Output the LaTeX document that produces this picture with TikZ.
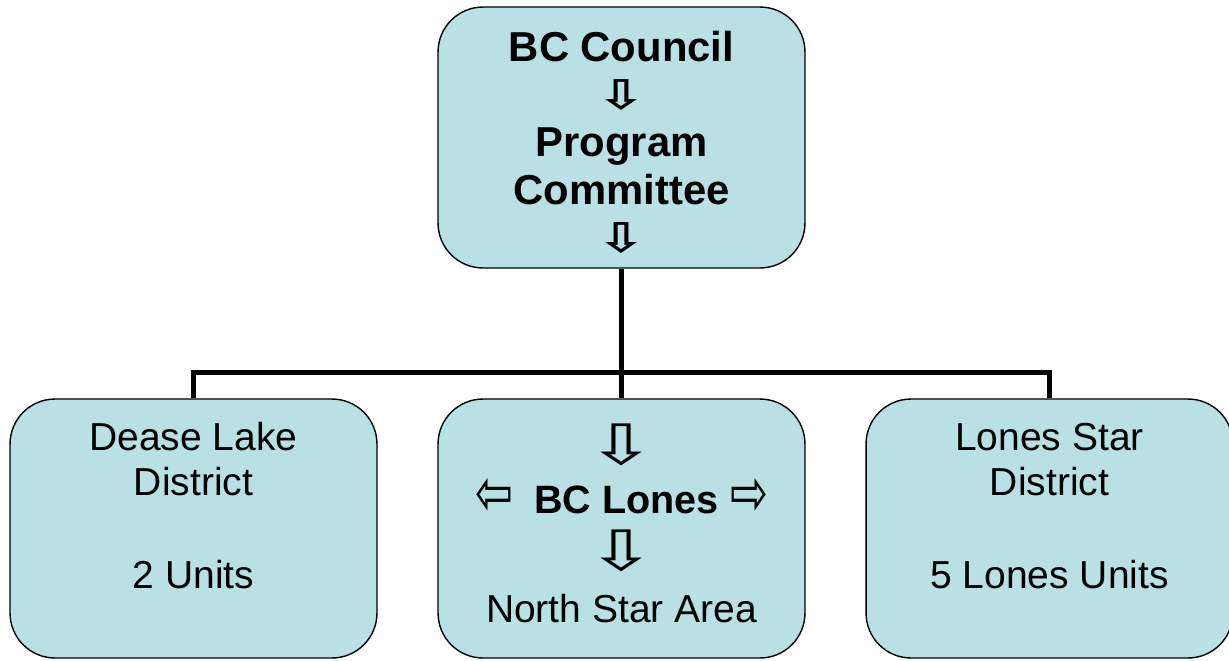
\documentclass[tikz,border=0pt]{standalone}
\usepackage{fontspec}
\setmainfont{Liberation Sans}
\newfontfamily\arrowfont{DejaVu Sans}
\usepackage{tikz}

\definecolor{boxblue}{HTML}{B9E0E4}
% hollow arrow glyph, sized to the box it sits in
\newcommand\hollow[3]{\resizebox*{#1}{#2}{\arrowfont #3}}

\begin{document}
\begin{tikzpicture}[x=0.02cm,y=-0.02cm,
  unit/.style = {draw=black,line width=0.8pt,fill=boxblue,align=center,
                 rounded corners=0.9cm,minimum width=7.34cm,minimum height=5.18cm,
                 font=\fontsize{22.2}{25.6}\selectfont},
  head/.style = {font=\fontsize{23.8}{27.3}\selectfont\bfseries},
  link/.style = {draw=black,line width=0.1cm}]
\useasboundingbox (0,0) rectangle (1229,660);

\node[unit,head,minimum height=5.22cm] (council) at (621.5,137.5) {\rule{0pt}{0.8cm}BC Council\\\hollow{1.0cm}{0.62cm}{⇩}\\Program\\Committee\\\hollow{1.0cm}{0.62cm}{⇩}};

\node[unit] (dease) at (193.5,528.5) {\rule{0pt}{0.6cm}Dease Lake\\District\\[27pt]2 Units\rule[-0.96cm]{0pt}{0pt}};
\node[unit] (lones) at (621.5,528.5) {\hollow{1.4cm}{0.84cm}{⇩}\\[2.3pt]\raisebox{-0.04cm}{\hollow{0.76cm}{0.74cm}{⇦}}\hspace{12pt}{\fontsize{22.5}{25.6}\selectfont\bfseries BC Lones}\hspace{6.5pt}\raisebox{-0.04cm}{\hollow{0.76cm}{0.74cm}{⇨}}\\[7pt]\hollow{1.4cm}{0.84cm}{⇩}\\[4pt]North Star Area\rule[-0.22cm]{0pt}{0pt}};
\node[unit] (lonestar) at (1049.5,528.5) {\rule{0pt}{0.6cm}Lones Star\\District\\[27pt]5 Lones Units\rule[-0.96cm]{0pt}{0pt}};

\coordinate (bus) at (621.5,372.5);

\draw[link] (council.south) -- (lones.north);
\draw[link] (dease.north) |- (bus) -| (lonestar.north);
\end{tikzpicture}
\end{document}
